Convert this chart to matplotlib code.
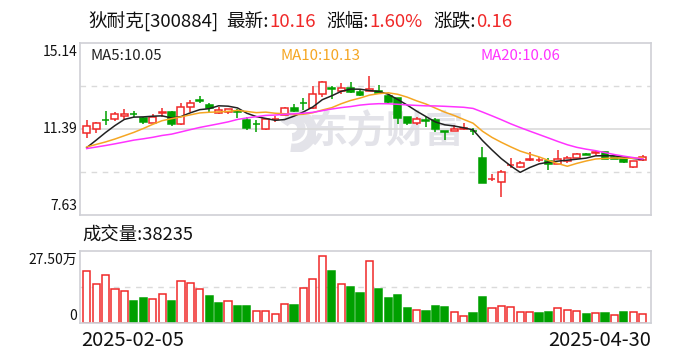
import numpy as np
import pandas as pd
import matplotlib
matplotlib.use('Agg')
import matplotlib.pyplot as plt
from matplotlib.patches import Rectangle, Arc

plt.rcParams['font.family'] = ['Noto Sans CJK SC', 'DejaVu Sans']

# daily k-line, 2025-02-05 .. 2025-04-30 (60 trading days)
pre_close = [10.30, 10.42, 10.55, 10.48, 10.40, 10.52, 10.61, 10.50, 10.44, 10.38,
             10.52, 10.68, 10.75, 10.62, 10.58, 10.00, 10.10, 10.50, 10.72]
opens = [11.20, 11.39, 11.79, 11.84, 11.97, 12.05, 11.88, 11.66, 12.09, 12.13,
         11.62, 12.36, 12.64, 12.43, 12.10, 12.12, 12.15, 11.78, 11.61, 11.37,
         11.81, 12.00, 12.29, 12.54, 12.29, 12.90, 13.16, 13.06, 13.16, 13.02,
         13.06, 13.06, 12.83, 12.72, 11.89, 11.63, 11.76, 11.78, 11.28, 11.31,
         11.40, 11.31, 10.10, 9.20, 9.06, 9.80, 9.74, 10.05, 10.01, 9.99,
         9.86, 9.99, 10.13, 10.29, 10.34, 10.37, 10.15, 10.10, 9.71, 10.01]
highs = [11.78, 11.67, 12.17, 12.11, 12.24, 12.16, 11.91, 12.03, 12.30, 12.19,
         12.52, 12.65, 12.81, 12.51, 12.33, 12.27, 12.24, 11.92, 11.78, 11.85,
         11.97, 12.35, 12.48, 12.72, 13.26, 13.48, 13.28, 13.38, 13.42, 13.09,
         13.71, 13.31, 12.85, 12.74, 11.92, 11.92, 11.92, 11.85, 11.30, 11.56,
         11.66, 11.41, 10.59, 9.40, 9.61, 10.10, 10.00, 10.40, 10.18, 10.10,
         10.47, 10.22, 10.35, 10.35, 10.43, 10.39, 10.19, 10.12, 10.00, 10.25]
lows = [10.98, 11.23, 11.56, 11.75, 11.82, 11.90, 11.62, 11.66, 11.91, 11.53,
        11.56, 12.14, 12.51, 12.14, 12.05, 12.06, 11.88, 11.34, 11.27, 11.34,
        11.71, 12.00, 12.14, 12.21, 12.24, 12.80, 12.68, 12.91, 12.94, 12.83,
        13.03, 12.91, 12.46, 11.59, 11.56, 11.56, 11.49, 11.27, 10.91, 11.30,
        11.34, 11.12, 9.03, 9.10, 8.40, 9.69, 9.67, 10.00, 9.96, 9.60,
        9.85, 9.92, 10.13, 10.25, 10.25, 10.06, 10.06, 9.92, 9.70, 10.00]
closes = [11.53, 11.63, 11.77, 12.03, 12.06, 12.03, 11.68, 11.92, 12.11, 11.59,
          12.33, 12.51, 12.61, 12.32, 12.22, 12.25, 12.13, 11.44, 11.59, 11.82,
          11.84, 12.29, 12.19, 12.52, 12.90, 13.42, 13.14, 13.16, 13.02, 12.87,
          13.13, 12.94, 12.55, 11.88, 11.66, 11.81, 11.74, 11.37, 11.26, 11.40,
          11.42, 11.29, 9.03, 9.22, 9.49, 9.83, 9.89, 10.07, 10.03, 9.86,
          10.06, 10.10, 10.28, 10.27, 10.36, 10.08, 10.09, 9.96, 10.00, 10.16]
# volume in 万手
volumes = [21.2, 16.2, 19.5, 13.75, 13.3, 8.9, 10.2, 10.0, 12.1, 8.9,
           17.05, 16.4, 13.75, 11.0, 8.1, 9.2, 6.9, 6.9, 5.1, 5.1,
           3.85, 8.0, 7.3, 14.2, 17.9, 27.5, 21.45, 15.95, 14.7, 12.4,
           25.3, 13.9, 10.2, 11.4, 6.05, 5.5, 4.8, 6.9, 6.5, 4.4,
           3.0, 4.0, 10.6, 6.3, 7.15, 6.7, 4.4, 4.7, 4.0, 4.4,
           6.3, 5.2, 5.1, 3.6, 4.3, 4.0, 3.4, 4.4, 4.4, 3.82]
dates = ['2025-02-05', '2025-04-30']
ma_labels = ['MA5:10.05', 'MA10:10.13', 'MA20:10.06']
price_ticks = ['15.14', '11.39', '7.63']
vol_ticks = ['27.50万', '0']

RED = '#f02828'
GREEN = '#00a000'
GRID = '#dadada'
EDGE = '#cfd0d6'
WM = '#e3e3e9'
MA_COLORS = ['#222222', '#f5a623', '#ff33ff']

n = len(closes)
xs = np.arange(n)
allc = pd.Series(pre_close + closes)
ma = [allc.rolling(k).mean().values[len(pre_close):] for k in (5, 10, 20)]
prev = np.array([pre_close[-1]] + closes[:-1])
vol_up = np.array(closes) >= prev

W, H = 688, 360
def fx(px): return px / W
def fy(py): return 1 - py / H

fig = plt.figure(figsize=(6.88, 3.6), dpi=100)
ax = fig.add_axes([fx(80), fy(215), fx(651) - fx(80), fy(43) - fy(215)])
axv = fig.add_axes([fx(80), fy(323), fx(651) - fx(80), fy(251) - fy(323)])
ax.set_facecolor('none')

lo, hi = 7.63, 15.14
ax.set_ylim(lo, hi)
vmax = 29.55
axv.set_ylim(0, vmax)
for a in (ax, axv):
    a.set_xlim(-0.71, n - 0.12)
    a.set_xticks([]); a.set_yticks([])
    for s in a.spines.values():
        s.set_color(EDGE); s.set_linewidth(1.2)

# grid
q = (hi - lo) / 4
ax.axhline(lo + 2 * q, color=GRID, lw=1.2, zorder=0)
for v in (lo + q, lo + 3 * q):
    ax.axhline(v, color=GRID, lw=1, ls=(0, (4, 4)), zorder=0)
axv.axhline(vmax / 2, color=GRID, lw=1, ls=(0, (4, 4)), zorder=0)

# watermark
fig.text(fx(386), fy(132), '东方财富', fontsize=28, fontweight='bold',
         color=WM, ha='center', va='center', zorder=0)
lax = fig.add_axes([fx(272), fy(152), fx(44), fy(0) - fy(42)], zorder=0)
lax.set_xlim(-1.2, 1.2); lax.set_ylim(-1.2, 1.2); lax.axis('off')
lax.add_patch(Arc((0, 0), 2.0, 2.0, theta1=-100, theta2=120, color=WM, lw=7))
lax.add_patch(Arc((-0.1, 0.15), 1.0, 1.0, theta1=-90, theta2=150, color=WM, lw=6))
ax.set_zorder(1); axv.set_zorder(1)

# candles
w = 0.74
for i in xs:
    o, h, l, c = opens[i], highs[i], lows[i], closes[i]
    top, bot = max(o, c), min(o, c)
    if c >= o:
        ax.vlines(i, top, h, color=RED, lw=1.1, zorder=3)
        ax.vlines(i, l, bot, color=RED, lw=1.1, zorder=3)
        ax.add_patch(Rectangle((i - w / 2, bot), w, max(top - bot, 0.005),
                               facecolor='white', edgecolor=RED, lw=1.1, zorder=3))
    else:
        ax.vlines(i, l, h, color=GREEN, lw=1.1, zorder=3)
        ax.add_patch(Rectangle((i - w / 2, bot), w, max(top - bot, 0.005),
                               facecolor=GREEN, edgecolor=GREEN, lw=1.1, zorder=3))

for m, col in zip(ma, MA_COLORS):
    ax.plot(xs, m, color=col, lw=1.1, zorder=4)

# volume
wv = 0.76
for i in xs:
    if vol_up[i]:
        axv.add_patch(Rectangle((i - wv / 2, 0), wv, volumes[i], facecolor='white',
                                edgecolor=RED, lw=1.1))
    else:
        axv.add_patch(Rectangle((i - wv / 2, 0), wv, volumes[i], facecolor=GREEN,
                                edgecolor=GREEN, lw=1.1))

# axis texts
TXT = '#111111'
for lab, py in zip(price_ticks, (52.5, 129.3, 205.7)):
    fig.text(fx(77.5), fy(py), lab, ha='right', va='center', fontsize=10, color=TXT)
for lab, py in zip(vol_ticks, (260, 316)):
    fig.text(fx(77.5), fy(py), lab, ha='right', va='center', fontsize=10, color=TXT)
for lab, px, col in zip(ma_labels, (90, 281, 480), MA_COLORS):
    fig.text(fx(px), fy(56.5), lab, ha='left', va='center', fontsize=10.8, color=col)
fig.text(fx(82), fy(236), '成交量:38235', ha='left', va='center', fontsize=13.2, color=TXT)
fig.text(fx(81), fy(341), dates[0], ha='left', va='center', fontsize=14.5, color=TXT)
fig.text(fx(651), fy(341), dates[1], ha='right', va='center', fontsize=14.5, color=TXT)

# title line
parts = [('狄耐克[300884]', TXT, 0), ('最新:', TXT, 6), ('10.16', RED, 0),
         ('涨幅:', TXT, 8), ('1.60%', RED, 0), ('涨跌:', TXT, 8), ('0.16', RED, 0)]
t = fig.text(fx(88), fy(22), parts[0][0], color=parts[0][1], fontsize=13.4,
             ha='left', va='center')
for s, col, gap in parts[1:]:
    t = ax.annotate(s, xy=(1, 0.5), xycoords=t, xytext=(gap, 0), textcoords='offset points',
                    ha='left', va='center', color=col, fontsize=13.4, annotation_clip=False)

fig.savefig('out.png', dpi=100)
